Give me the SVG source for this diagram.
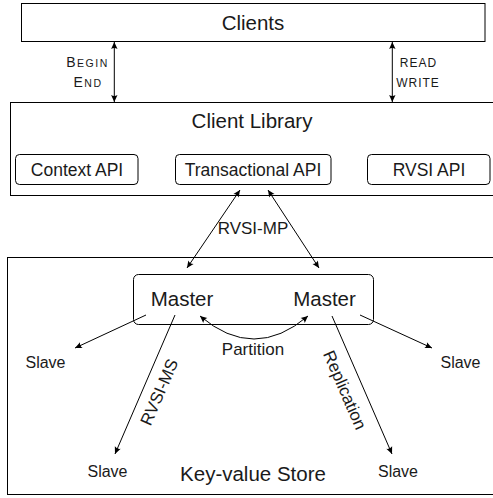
<svg xmlns="http://www.w3.org/2000/svg" width="493" height="498" viewBox="0 0 493 498">
  <style>
    text { font-family: 'Liberation Sans', Arial, sans-serif; fill: #1a1a1a; }
    .box { fill: none; stroke: #000; stroke-width: 1; }
    .rbox { fill: none; stroke: #000; stroke-width: 1; }
    .big { font-size: 20.5px; }
    .mid { font-size: 17.5px; }
    .sm { font-size: 16px; }
    .lbl { font-size: 17px; }
    .sc { letter-spacing: 1.5px; }
    .sc2 { font-size: 12px; letter-spacing: 1px; }
    .edge { fill: none; stroke: #000; stroke-width: 1; marker-end: url(#tip); }
    .both { marker-start: url(#tipStart); }
  </style>
  <defs>
    <marker id="tip" viewBox="-8 -4 9 8" refX="0" refY="0" markerWidth="9" markerHeight="8" markerUnits="userSpaceOnUse" orient="auto">
      <path d="M0,0 L-7,-3.2 Q-5,0 -7,3.2 Z" fill="#000"/>
    </marker>
    <marker id="tipStart" viewBox="-1 -4 9 8" refX="0" refY="0" markerWidth="9" markerHeight="8" markerUnits="userSpaceOnUse" orient="auto">
      <path d="M0,0 L7,-3.2 Q5,0 7,3.2 Z" fill="#000"/>
    </marker>
  </defs>

  <!-- top tier -->
  <g id="clients">
    <rect class="box" x="21.5" y="3.5" width="463.5" height="38"/>
    <text class="big" x="253" y="30" text-anchor="middle">Clients</text>
  </g>

  <g id="client-library">
    <rect class="box" x="10.5" y="102.5" width="490" height="93"/>
    <text class="big" x="252" y="128" text-anchor="middle">Client Library</text>
  </g>
  <g id="context-api">
    <rect class="rbox" x="15.5" y="154.5" width="122.5" height="30" rx="4"/>
    <text class="mid" x="77" y="176" text-anchor="middle">Context API</text>
  </g>
  <g id="transactional-api">
    <rect class="rbox" x="175.5" y="154.5" width="155.5" height="30" rx="4"/>
    <text class="mid" x="253" y="176" text-anchor="middle">Transactional API</text>
  </g>
  <g id="rvsi-api">
    <rect class="rbox" x="367.5" y="154.5" width="122.5" height="30" rx="4"/>
    <text class="mid" x="429" y="176" text-anchor="middle">RVSI API</text>
  </g>

  <!-- storage tier -->
  <g id="key-value-store">
    <rect class="box" x="7.5" y="257.5" width="490" height="237"/>
    <text class="big" x="253" y="481" text-anchor="middle">Key-value Store</text>
  </g>
  <g id="masters">
    <rect class="rbox" x="133.5" y="274.5" width="240" height="50" rx="5"/>
  </g>
  <g id="master-left">
    <text class="big" x="182" y="306" text-anchor="middle">Master</text>
  </g>
  <g id="master-right">
    <text class="big" x="324.5" y="306" text-anchor="middle">Master</text>
  </g>
  <g id="slave-left">
    <text class="sm" x="45.5" y="368" text-anchor="middle">Slave</text>
  </g>
  <g id="slave-bottom-left">
    <text class="sm" x="107.5" y="477" text-anchor="middle">Slave</text>
  </g>
  <g id="slave-right">
    <text class="sm" x="460.5" y="368" text-anchor="middle">Slave</text>
  </g>
  <g id="slave-bottom-right">
    <text class="sm" x="398" y="477" text-anchor="middle">Slave</text>
  </g>

  <!-- connectors -->
  <g id="connectors">
    <line class="edge both" x1="114.3" y1="42" x2="114.3" y2="102"/>
    <line class="edge both" x1="392.3" y1="42" x2="392.3" y2="102"/>
    <line class="edge both" x1="240" y1="190" x2="187" y2="268"/>
    <line class="edge both" x1="268" y1="190" x2="319" y2="268"/>
    <line class="edge" x1="146" y1="315" x2="75" y2="348"/>
    <line class="edge" x1="175" y1="315" x2="115" y2="454"/>
    <path class="edge both" d="M200,316 Q254,362 308,316"/>
    <line class="edge" x1="332" y1="316" x2="392" y2="454"/>
    <line class="edge" x1="360" y1="315" x2="432" y2="348"/>

    <text class="sc" x="87.5" y="67" text-anchor="middle"><tspan font-size="14">B</tspan><tspan font-size="10.5">EGIN</tspan></text>
    <text class="sc" x="88" y="87" text-anchor="middle"><tspan font-size="14">E</tspan><tspan font-size="10.5">ND</tspan></text>
    <text class="sc2" x="418.5" y="67" text-anchor="middle">READ</text>
    <text class="sc2" x="418" y="87" text-anchor="middle">WRITE</text>
    <text class="lbl" x="253" y="234" text-anchor="middle">RVSI-MP</text>
    <text class="lbl" x="253" y="355" text-anchor="middle">Partition</text>
    <text class="lbl" text-anchor="middle" transform="translate(159 392) rotate(-66.6)" dy="6">RVSI-MS</text>
    <text class="lbl" text-anchor="middle" transform="translate(345 390) rotate(66.5)" dy="6">Replication</text>
  </g>
</svg>
